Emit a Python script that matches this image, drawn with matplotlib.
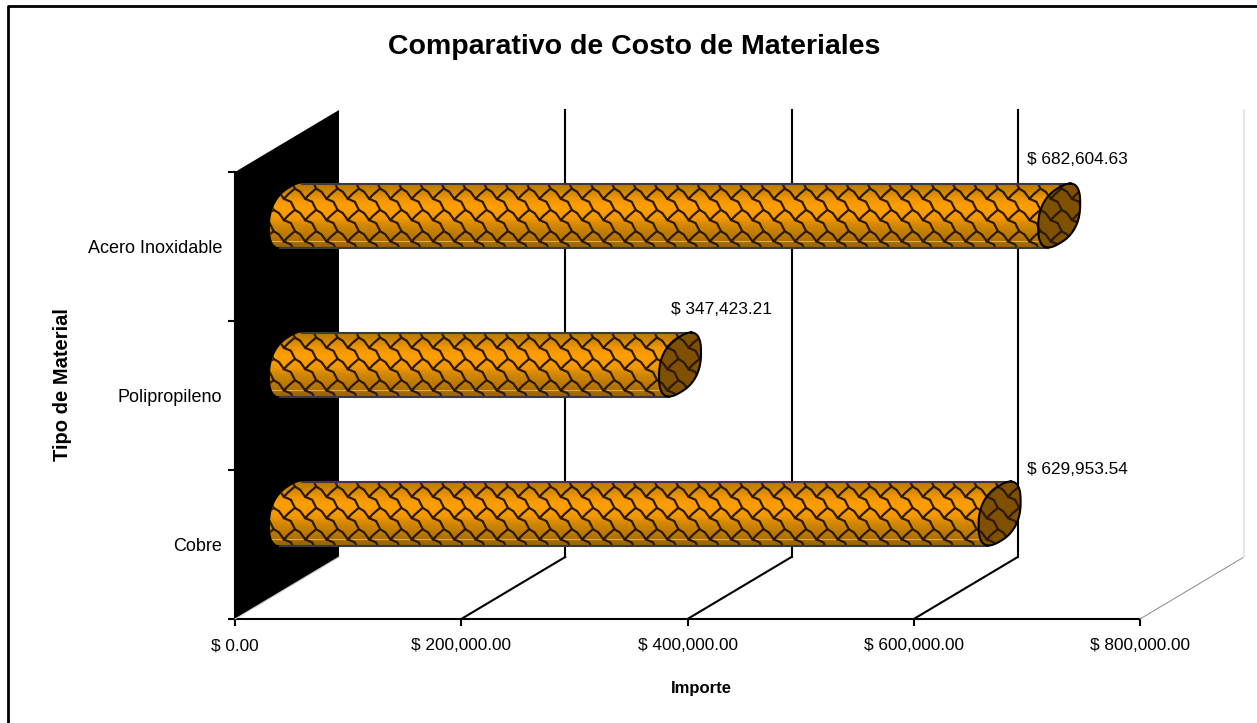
import matplotlib
matplotlib.use('Agg')
import matplotlib.pyplot as plt
import numpy as np
from matplotlib.colors import LinearSegmentedColormap
from matplotlib.patches import Polygon

plt.rcParams['font.family'] = ['Liberation Sans', 'DejaVu Sans']

materiales = ['Cobre', 'Polipropileno', 'Acero Inoxidable']
importes = [629953.54, 347423.21, 682604.63]
x_ticks = [0, 200000, 400000, 600000, 800000]
etiquetas = ['$ 629,953.54', '$ 347,423.21', '$ 682,604.63']

W, H = 1257, 723
X0, X1 = 235, 1140   # front floor edge in pixels
Y0, Y1 = 619, 172
DX, DY = 104, -62    # depth of the 3d box
label_pos = [(1027, 469), (671, 309), (1027, 159)]

fig = plt.figure(figsize=(W / 100, H / 100), dpi=100)
ax = fig.add_axes([X0 / W, 1 - Y0 / H, (X1 - X0) / W, (Y0 - Y1) / H])
ax.set_xlim(0, 800000)
ax.set_ylim(0, 3)
for s in ['top', 'right']:
    ax.spines[s].set_visible(False)
ax.spines['bottom'].set_linewidth(1.5)
ax.spines['left'].set_linewidth(1.5)
ax.set_xticks(x_ticks)
ax.set_xticklabels(['$ {:,.2f}'.format(v) for v in x_ticks], fontsize=12.4)
ax.tick_params(axis='x', length=5, width=1.5, pad=9)
ax.set_yticks([0, 1, 2, 3])
ax.set_yticklabels([])
ax.tick_params(axis='y', length=5, width=1.5)
ax.set_yticks([0.5, 1.5, 2.5], minor=True)
ax.set_yticklabels(materiales, minor=True, fontsize=13)
ax.tick_params(axis='y', which='minor', length=0, pad=9.4)

# overlay in pixel coordinates for the fake 3d parts
px = fig.add_axes([0, 0, 1, 1], zorder=5)
px.set_xlim(0, W)
px.set_ylim(H, 0)
px.axis('off')
px.patch.set_alpha(0)


def to_px(v, cat):
    p = ax.transData.transform((v, cat))
    return p[0], H - p[1]


# outer chart border, only top and left are inside the picture
px.plot([8, 8, W], [H, 6, 6], color='k', lw=2, solid_capstyle='butt')

# side wall
px.add_patch(Polygon([(X0, Y1), (X0 + DX, Y1 + DY), (X0 + DX, Y0 + DY), (X0, Y0)],
                     closed=True, fc='k', ec='none', zorder=2))
px.plot([X0, X0 + DX], [Y0, Y0 + DY], color='#c8c8c8', lw=0.8, zorder=2)

# floor lines and back grid
for v in x_ticks[1:]:
    fx, _ = to_px(v, 0)
    last = v == x_ticks[-1]
    c = '#8a8a8a' if last else 'k'
    lw = 0.7 if last else 1.5
    px.plot([fx, fx + DX], [Y0, Y0 + DY], color=c, lw=lw, zorder=2)
    px.plot([fx + DX, fx + DX], [Y0 + DY, Y1 + DY],
            color='#e6e6e6' if last else 'k', lw=1.5, zorder=2)

cmap = LinearSegmentedColormap.from_list('tubo', [
    (0.00, '#b97800'), (0.12, '#cc8400'), (0.25, '#f09600'), (0.38, '#ff9e00'),
    (0.55, '#f49800'), (0.68, '#d08600'), (0.85, '#b87600'), (1.00, '#9c6400')])

A, B, C = 21.0, 12.7, 29.5   # end of the tube
RADIO = 32
TILE = 21.3
# one scale of the texture, relative to its inner corner
ESCAMA_X = np.array([-10, -5, 0, 7, 11, 4, 0])
ESCAMA_Y = np.array([-10, -7, 0, 3, 11, 17, 21.3])

# slightly squared ellipse, the reference end caps are boxy
tt = np.linspace(0, 2 * np.pi, 240, endpoint=False)
cc = np.sign(np.cos(tt)) * np.abs(np.cos(tt)) ** 0.8
ss = np.sign(np.sin(tt)) * np.abs(np.sin(tt)) ** 0.8
FORMA_X = A * cc
FORMA_Y = -B * cc - C * ss
FORMA_Y = FORMA_Y * RADIO / np.abs(FORMA_Y).max()
arranque = np.argmin(FORMA_Y)
FORMA_X = np.roll(FORMA_X, -arranque)
FORMA_Y = np.roll(FORMA_Y, -arranque)
mitad = np.argmax(FORMA_Y)


def escamas(x_from, x_to, top, clip, z, color='#2b1a00'):
    i0 = int(np.floor((x_from - 433) / TILE)) - 1
    i1 = int(np.ceil((x_to - 433) / TILE)) + 1
    for i in range(i0, i1):
        for j in range(-1, 5):
            vx, vy = 433 + i * TILE, top - 6 + j * TILE
            ln, = px.plot(vx + ESCAMA_X, vy + ESCAMA_Y, color=color, lw=1.6, zorder=z,
                          solid_joinstyle='round')
            ln.set_clip_path(clip)


for i, v in enumerate(importes):
    front_x, front_y = to_px(v, i + 0.5)
    start_x, _ = to_px(0, i + 0.5)
    cy = front_y + DY / 2
    cx_r = front_x + DX / 2
    cx_l = start_x + DX / 2 + 4
    top, bot = cy - RADIO, cy + RADIO

    # outline of the tube: left half of first end, right half of the last one
    lx, ly = cx_l + FORMA_X[:mitad + 1], cy + FORMA_Y[:mitad + 1]
    rx, ry = cx_r + FORMA_X[mitad:], cy + FORMA_Y[mitad:]
    cuerpo = Polygon(np.c_[np.r_[lx, rx], np.r_[ly, ry]], closed=True,
                     fc='none', ec='none', zorder=3)
    px.add_patch(cuerpo)
    grad = np.linspace(0, 1, 128).reshape(-1, 1)
    im = px.imshow(grad, cmap=cmap, extent=(cx_l - A - 2, cx_r + A + 2, bot, top),
                   aspect='auto', zorder=3, interpolation='nearest')
    im.set_clip_path(cuerpo)
    linea, = px.plot([cx_l - A, cx_r + A], [bot - 7, bot - 7], color='#dba94e', lw=0.8, zorder=3)
    linea.set_clip_path(cuerpo)
    escamas(cx_l - A, cx_r + A, top, cuerpo, 4)

    # top and bottom edges
    px.plot([lx[0], rx[-1]], [top, top], color='#3a3a3a', lw=1.5, zorder=4)
    px.plot([lx[-1], rx[0]], [bot, bot], color='#3a3a3a', lw=1.5, zorder=4)

    # darker end cap
    ex, ey = cx_r + FORMA_X, cy + FORMA_Y
    cap = Polygon(np.c_[ex, ey], closed=True, fc='#7f5000', ec='none', zorder=6)
    px.add_patch(cap)
    escamas(cx_r - A, cx_r + A, top, cap, 7)
    px.plot(np.r_[ex, ex[0]], np.r_[ey, ey[0]], color='k', lw=1.5, zorder=8)

    px.text(label_pos[i][0], label_pos[i][1], etiquetas[i], fontsize=12.4,
            ha='left', va='center', zorder=9)

px.text(634, 47, 'Comparativo de Costo de Materiales', fontsize=20.5, fontweight='bold',
        ha='center', va='center')
px.text(701, 688, 'Importe', fontsize=12, fontweight='bold', ha='center', va='center')
px.text(62, 385, 'Tipo de Material', fontsize=14.5, fontweight='bold', rotation=90,
        ha='center', va='center')
px.set_xlim(0, W)
px.set_ylim(H, 0)

fig.savefig('out.png', dpi=100)
